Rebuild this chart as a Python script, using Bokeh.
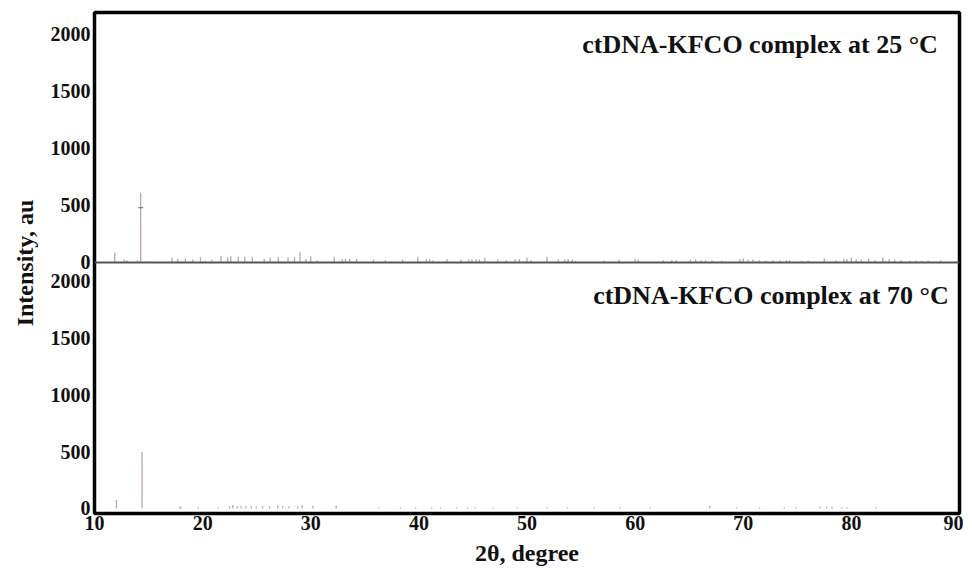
from bokeh.plotting import figure
from bokeh.models import Range1d, FixedTicker, Span, Label, ColumnDataSource
from bokeh.transform import dodge
from bokeh.embed import file_html
from bokeh.resources import INLINE

# ---------------- data ----------------
# ctDNA-KFCO complex at 25 °C : stick positions (2θ) and intensities
pos_25 = [11.87, 12.73, 13.0, 13.97, 14.27, 15.1, 17.16, 17.7, 18.4, 19.1, 19.8, 20.23, 20.85,
          21.7, 22.3, 22.6, 23.3, 23.9, 24.6, 25.7, 26.25, 27.0, 27.9, 28.5, 29.0, 29.56, 30.0,
          30.6, 32.17, 32.9, 33.2, 33.6, 34.25, 35.8, 36.9, 38.5, 39.9, 40.7, 41.0, 41.3, 42.6,
          43.9, 44.6, 44.9, 45.3, 45.6, 46.1, 47.3, 48.1, 48.9, 49.3, 50.0, 50.4, 51.85, 52.9,
          53.5, 53.8, 54.2, 54.5, 57.1, 58.5, 60.0, 60.3, 62.6, 63.4, 63.8, 65.1, 65.6, 66.1,
          66.5, 67.1, 68.0, 69.7, 70.0, 70.45, 70.9, 71.5, 72.1, 72.75, 73.4, 74.0, 74.3, 75.4,
          76.0, 77.5, 78.6, 79.3, 79.6, 80.0, 80.45, 80.9, 81.6, 82.2, 82.9, 83.5, 84.0, 84.6,
          85.4, 86.0, 86.5, 87.1, 88.25]
int_25 = [88, 25, 20, 20, 610, 10, 40, 30, 35, 25, 45, 15, 25,
          55, 45, 55, 50, 50, 50, 30, 40, 45, 45, 45, 90, 30, 55,
          15, 45, 30, 30, 30, 30, 25, 20, 25, 45, 30, 30, 20, 30,
          25, 25, 25, 30, 25, 40, 25, 20, 30, 30, 40, 20, 50, 25,
          25, 30, 25, 15, 15, 25, 30, 25, 20, 20, 20, 25, 25, 20,
          20, 20, 15, 30, 35, 25, 25, 20, 15, 20, 20, 20, 20, 15,
          15, 35, 20, 30, 30, 40, 25, 25, 35, 20, 40, 30, 25, 20,
          15, 15, 15, 15, 20]
mark_25_x = [14.27]
mark_25_y = [480]

# ctDNA-KFCO complex at 70 °C
pos_70 = [12.03, 14.4, 17.9, 18.0, 19.6, 21.4, 22.5, 22.8, 23.2, 23.55, 24.0, 24.5, 24.95,
          25.55, 26.2, 26.95, 27.4, 28.0, 28.8, 29.2, 30.2, 32.35, 36.3, 38.3, 39.7, 41.2,
          42.0, 43.5, 44.5, 45.2, 46.9, 49.1, 51.85, 53.7, 56.2, 58.6, 61.4, 66.9, 69.4,
          71.5, 73.8, 74.9, 77.1, 77.7, 78.2, 79.1, 79.6, 82.3]
int_70 = [75, 495, 15, 15, 10, 10, 20, 30, 20, 20, 20, 20, 20,
          20, 20, 30, 20, 20, 20, 30, 25, 25, 10, 10, 10, 10,
          10, 10, 10, 10, 10, 10, 10, 10, 10, 10, 10, 25, 10,
          10, 10, 10, 15, 15, 15, 10, 10, 10]

y_ticks = [0, 500, 1000, 1500, 2000]
x_ticks = [10, 20, 30, 40, 50, 60, 70, 80, 90]
label_25 = "ctDNA-KFCO complex at 25 °C"
label_70 = "ctDNA-KFCO complex at 70 °C"

# the 25 °C panel is stacked above the 70 °C panel: its zero sits this many
# intensity units above the lower panel's zero
PANEL_OFFSET = 2159

# ---------------- styling ----------------
FONT = "Liberation Serif"
STICK = "#b9a3bb"
TXT = "#111111"

src25 = ColumnDataSource(dict(x=pos_25, y0=[0] * len(pos_25), y1=int_25))
src70 = ColumnDataSource(dict(x=pos_70, y0=[0] * len(pos_70), y1=int_70))
srcm = ColumnDataSource(dict(x=mark_25_x, y=mark_25_y))

p = figure(width=963, height=568, output_backend="svg", toolbar_location=None,
           x_range=Range1d(10, 90), y_range=Range1d(-44, 4352))
p.toolbar.logo = None
p.grid.visible = False
p.outline_line_color = "black"
p.outline_line_width = 3.5
p.min_border_left = 94
p.min_border_right = 4
p.min_border_top = 12
p.min_border_bottom = 50

# y axis: two stacked 0..2000 scales
ticks_all = y_ticks + [t + PANEL_OFFSET for t in y_ticks]
yax = p.yaxis[0]
yax.ticker = FixedTicker(ticks=ticks_all)
yax.major_label_overrides = {t + PANEL_OFFSET: str(t) for t in y_ticks}
yax.axis_line_color = None
yax.major_tick_line_color = None
yax.minor_tick_line_color = None
yax.major_tick_out = 0
yax.major_tick_in = 0
yax.major_label_text_font = FONT
yax.major_label_text_font_style = "bold"
yax.major_label_text_font_size = "20px"
yax.major_label_text_color = TXT
yax.major_label_standoff = 4
yax.axis_label = "Intensity, au"
yax.axis_label_text_font = FONT
yax.axis_label_text_font_style = "bold"
yax.axis_label_text_font_size = "24px"
yax.axis_label_text_color = TXT
yax.axis_label_standoff = 10

xax = p.xaxis[0]
xax.ticker = FixedTicker(ticks=x_ticks)
xax.axis_line_color = None
xax.major_tick_line_color = None
xax.minor_tick_line_color = None
xax.major_tick_out = 0
xax.major_tick_in = 0
xax.major_label_text_font = FONT
xax.major_label_text_font_style = "bold"
xax.major_label_text_font_size = "20px"
xax.major_label_text_color = TXT
xax.major_label_standoff = 2
xax.axis_label = "2θ, degree"
xax.axis_label_text_font = FONT
xax.axis_label_text_font_style = "bold"
xax.axis_label_text_font_size = "24px"
xax.axis_label_text_color = TXT
xax.axis_label_standoff = 7

# lower panel (70 °C)
p.segment(x0="x", y0="y0", x1="x", y1="y1", source=src70,
          line_color=STICK, line_width=1.3)
# upper panel (25 °C), shifted up by the panel offset
p.segment(x0="x", y0=dodge("y0", PANEL_OFFSET), x1="x", y1=dodge("y1", PANEL_OFFSET),
          source=src25, line_color=STICK, line_width=1.3)
p.scatter(x="x", y=dodge("y", PANEL_OFFSET), source=srcm, marker="dash", size=5,
          line_color="#666666")
# upper panel baseline / panel divider
p.add_layout(Span(location=PANEL_OFFSET, dimension="width", line_color="#555555",
                  line_width=2))

p.add_layout(Label(x=88.0, y=PANEL_OFFSET + 1912, text=label_25, text_font=FONT,
                   text_font_style="bold", text_font_size="26px", text_align="right",
                   text_baseline="middle", text_color=TXT))
p.add_layout(Label(x=89.0, y=1868, text=label_70, text_font=FONT,
                   text_font_style="bold", text_font_size="26px", text_align="right",
                   text_baseline="middle", text_color=TXT))

open("out.html", "w").write(file_html(p, INLINE))
